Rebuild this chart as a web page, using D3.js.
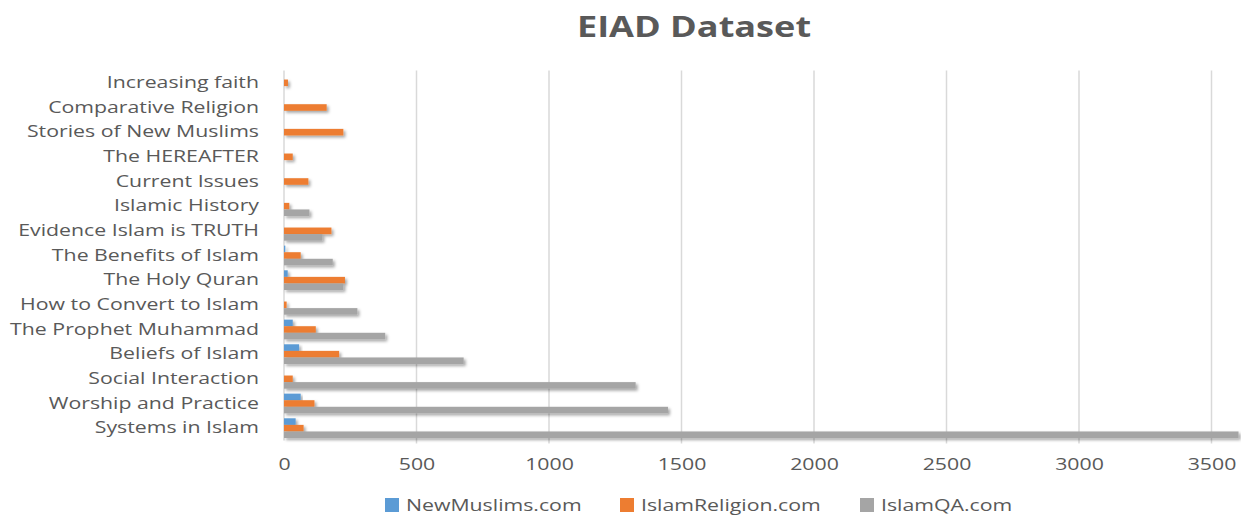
<!DOCTYPE html>
<html>
<head>
<meta charset="utf-8">
<script src="https://cdn.jsdelivr.net/npm/d3@7"></script>
<style>
  body { margin: 0; background: #fff; }
  svg { display: block; }
</style>
</head>
<body>
<div class="chart"></div>
<script>
// DATA (bottom category first, like the original sheet)
var categories = ['Systems in Islam', 'Worship and Practice', 'Social Interaction', 'Beliefs of Islam',
  'The Prophet Muhammad', 'How to Convert to Islam', 'The Holy Quran', 'The Benefits of Islam',
  'Evidence Islam is TRUTH', 'Islamic History', 'Current Issues', 'The HEREAFTER',
  'Stories of New Muslims', 'Comparative Religion', 'Increasing faith'];
var newMuslims    = [44, 63, 0, 57, 33, 0, 14, 5, 0, 0, 0, 0, 0, 0, 0];
var islamReligion = [74, 115, 33, 208, 120, 10, 230, 63, 179, 20, 92, 33, 224, 161, 15];
var islamQA       = [3602, 1449, 1327, 678, 382, 277, 224, 184, 145, 96, 0, 0, 0, 0, 0];
var seriesNames = ['NewMuslims.com', 'IslamReligion.com', 'IslamQA.com'];
var xTicks = [0, 500, 1000, 1500, 2000, 2500, 3000, 3500];

var colors = ['#5B9BD5', '#ED7D31', '#A5A5A5'];
var width = 1241, height = 515;
// plot box (don't call it "top", that's window.top)
var plotLeft = 284, plotRight = 1238, plotTop = 70.5, plotBottom = 440.5;
// the picture is stretched sideways, so text gets stretched too
var stretch = 'scale(1.29,1)';

var svg = d3.select('.chart').append('svg')
  .attr('width', width)
  .attr('height', height);

// soft shadow like the office chart
var defs = svg.append('defs');
var f = defs.append('filter').attr('id', 'shadow')
  .attr('x', '-5%').attr('y', '-50%').attr('width', '115%').attr('height', '250%');
f.append('feDropShadow').attr('dx', 2).attr('dy', 2).attr('stdDeviation', 1.6)
  .attr('flood-color', '#000').attr('flood-opacity', 0.35);

var x = d3.scaleLinear().domain([0, 3600]).range([plotLeft, plotRight]);
var y = d3.scaleBand().domain(categories.slice().reverse()).range([plotTop, plotBottom])
  .paddingInner(0.2).paddingOuter(0.1);
var ySub = d3.scaleBand().domain([0, 1, 2]).range([0, y.bandwidth()]);

// title
svg.append('text')
  .attr('transform', 'translate(694,37) ' + stretch)
  .attr('text-anchor', 'middle')
  .style('font-family', 'Open Sans')
  .style('font-weight', 'bold')
  .style('font-size', '28px')
  .style('fill', '#595959')
  .text('EIAD Dataset');

// gridlines
svg.append('g').selectAll('line')
  .data(xTicks.slice(1))
  .enter().append('line')
  .attr('x1', function (d) { return x(d); })
  .attr('x2', function (d) { return x(d); })
  .attr('y1', plotTop).attr('y2', plotBottom + 3)
  .attr('stroke', '#D9D9D9')
  .attr('stroke-width', 1.5);

// left axis line
svg.append('line')
  .attr('x1', plotLeft).attr('x2', plotLeft)
  .attr('y1', plotTop).attr('y2', plotBottom)
  .attr('stroke', '#D9D9D9').attr('stroke-width', 1.5);

// bars
var seriesData = [newMuslims, islamReligion, islamQA];
seriesData.forEach(function (vals, s) {
  svg.append('g').attr('filter', 'url(#shadow)').selectAll('rect')
    .data(vals.map(function (v, i) { return { cat: categories[i], v: v }; }))
    .enter().append('rect')
    .attr('x', x(0))
    .attr('y', function (d) { return y(d.cat) + ySub(s); })
    .attr('height', ySub.bandwidth())
    .attr('width', function (d) { return x(d.v) - x(0); })
    .attr('fill', colors[s]);
});

// category labels
var yAxis = svg.append('g')
  .attr('transform', 'translate(' + (plotLeft - 25) + ',0)')
  .call(d3.axisLeft(y).tickSize(0).tickPadding(0));
yAxis.select('.domain').remove();
yAxis.selectAll('text')
  .attr('transform', stretch)
  .style('font-family', 'Open Sans')
  .style('font-size', '16.5px')
  .style('fill', '#595959');

// x tick labels
var xAxis = svg.append('g')
  .attr('transform', 'translate(0,' + (plotBottom + 12) + ')')
  .call(d3.axisBottom(x).tickValues(xTicks).tickFormat(d3.format('d')).tickSize(0).tickPadding(6));
xAxis.select('.domain').remove();
xAxis.selectAll('text')
  .attr('transform', stretch)
  .style('font-family', 'Open Sans')
  .style('font-size', '16.5px')
  .style('fill', '#595959');

// legend
var legendX = [385, 620, 860];
var legend = svg.append('g').selectAll('g')
  .data(seriesNames)
  .enter().append('g')
  .attr('transform', function (d, i) { return 'translate(' + legendX[i] + ',498)'; });
legend.append('rect')
  .attr('width', 14).attr('height', 14)
  .attr('fill', function (d, i) { return colors[i]; });
legend.append('text')
  .attr('transform', 'translate(21,13) ' + stretch)
  .style('font-family', 'Open Sans')
  .style('font-size', '16.5px')
  .style('fill', '#595959')
  .text(function (d) { return d; });
</script>
</body>
</html>
